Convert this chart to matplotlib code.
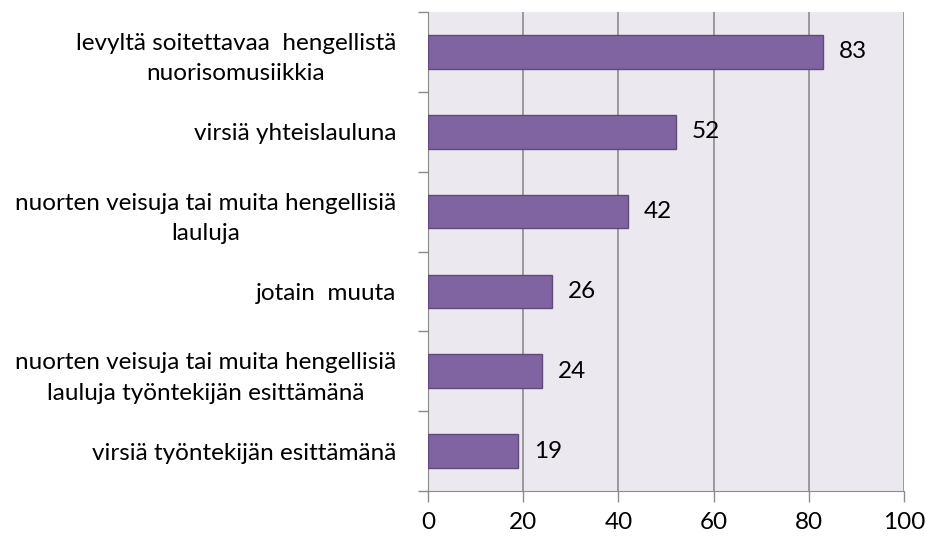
import matplotlib.pyplot as plt

categories = [
    'levyltä soitettavaa  hengellistä\nnuorisomusiikkia',
    'virsiä yhteislauluna',
    'nuorten veisuja tai muita hengellisiä\nlauluja',
    'jotain  muuta',
    'nuorten veisuja tai muita hengellisiä\nlauluja työntekijän esittämänä',
    'virsiä työntekijän esittämänä',
]
values = [83, 52, 42, 26, 24, 19]
xticks = [0, 20, 40, 60, 80, 100]

plt.rcParams['font.family'] = ['Lato', 'DejaVu Sans']

fig = plt.figure(figsize=(9.25, 5.37), dpi=100)
ax = fig.add_axes([428 / 925, 1 - 491 / 537, 476 / 925, 479 / 537])
ax.set_facecolor('#EBE9EF')

pos = list(range(len(categories)))
ax.barh(pos, values, height=0.42, color='#8064A2', edgecolor='#5F4A7B', linewidth=1, zorder=3)
for p, v in zip(pos, values):
    ax.text(v + 3.3, p, str(v), va='center', ha='left', fontsize=17.5, color='black', zorder=4)

ax.set_ylim(len(categories) - 0.5, -0.5)
ax.set_xlim(0, 100)
ax.set_xticks(xticks)
ax.set_xticklabels([str(t) for t in xticks], fontsize=17.5)
ax.tick_params(axis='x', direction='out', length=8, width=1, color='#8C8C8C', pad=7)

ax.set_yticks([p - 0.5 for p in pos] + [len(pos) - 0.5])
ax.set_yticklabels([])
ax.set_yticks(pos, minor=True)
ax.set_yticklabels(categories, minor=True, fontsize=17.5, ha='right',
                   multialignment='center', linespacing=1.55)
ax.tick_params(axis='y', which='major', direction='out', length=7, width=1, color='#8C8C8C')
ax.tick_params(axis='y', which='minor', length=0, pad=23)

ax.grid(axis='x', color='#8C8C8C', linewidth=1.2, zorder=0)
ax.spines['top'].set_visible(False)
ax.spines['right'].set_visible(False)
ax.spines['left'].set_color('#8C8C8C')
ax.spines['bottom'].set_color('#8C8C8C')
ax.set_axisbelow(True)

fig.savefig('out.png', dpi=100, facecolor='white')
